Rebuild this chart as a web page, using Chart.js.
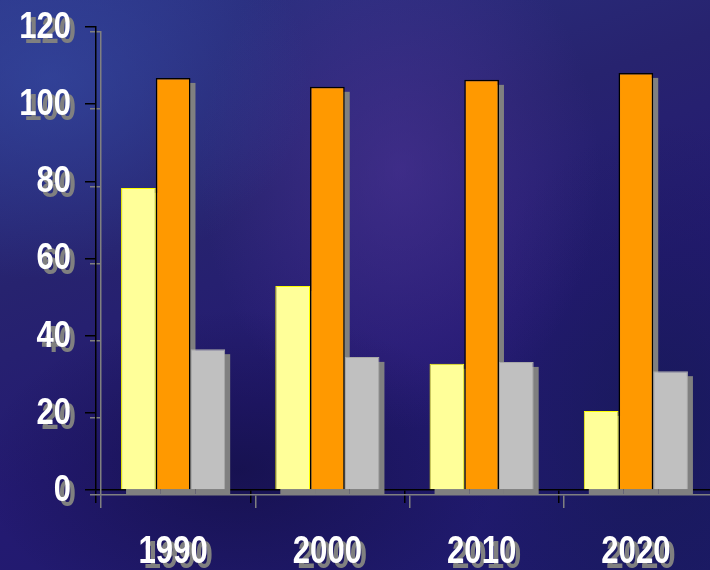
<!DOCTYPE html>
<html>
<head>
<meta charset="utf-8">
<script src="https://cdn.jsdelivr.net/npm/chart.js@4/dist/chart.umd.min.js"></script>
<style>
    html, body {
        margin: 0;
        padding: 0;
    }
    body {
        width: 710px;
        height: 570px;
        overflow: hidden;
        position: relative;
        background:
            radial-gradient(ellipse 260px 200px at 50px 80px, rgba(55, 80, 170, 0.55), rgba(55, 80, 170, 0) 100%),
            radial-gradient(ellipse 200px 260px at 400px 170px, rgba(85, 55, 160, 0.5), rgba(85, 55, 160, 0) 100%),
            radial-gradient(ellipse 260px 160px at 240px 470px, rgba(15, 12, 60, 0.6), rgba(15, 12, 60, 0) 100%),
            radial-gradient(ellipse 200px 300px at 660px 420px, rgba(20, 25, 80, 0.6), rgba(20, 25, 80, 0) 100%),
            linear-gradient(160deg, #2c3486 0%, #27236f 35%, #241a72 60%, #1d1a6a 100%);
    }
    #wrap {
        position: absolute;
        left: 0;
        top: 0;
        width: 716px;
        height: 570px;
    }
</style>
</head>
<body>
<div id="wrap"><canvas id="chart"></canvas></div>
<script>
const years = ['1990', '2000', '2010', '2020'];
const yellowValues = [78.3, 52.9, 32.7, 20.5];
const orangeValues = [106.8, 104.5, 106.3, 108.1];
const grayValues = [36.5, 34.5, 33.2, 30.8];
const yTicks = [0, 20, 40, 60, 80, 100, 120];

const shadowGray = '#808080';

function shadowOn(ctx) {
    ctx.shadowColor = shadowGray;
    ctx.shadowOffsetX = 5;
    ctx.shadowOffsetY = 5;
    ctx.shadowBlur = 0;
}

function shadowOff(ctx) {
    ctx.shadowColor = 'rgba(0,0,0,0)';
    ctx.shadowOffsetX = 0;
    ctx.shadowOffsetY = 0;
}

// narrow bold text, squeezed like Arial Narrow
function drawNarrow(ctx, text, x, y, size, squeeze, align) {
    ctx.save();
    ctx.font = 'bold ' + size + "px 'Liberation Sans', Arial, sans-serif";
    ctx.textAlign = align;
    ctx.textBaseline = 'middle';
    ctx.fillStyle = '#ffffff';
    ctx.translate(x, y);
    ctx.scale(squeeze, 1);
    ctx.fillText(text, 0, 0);
    ctx.restore();
}

// hard gray drop shadow on axes, bars and labels
const slideShadow = {
    id: 'slideShadow',
    beforeDraw(chart) {
        shadowOn(chart.ctx);
    },
    beforeDatasetsDraw(chart) {
        const ctx = chart.ctx;
        shadowOff(ctx);
        ctx.save();
        ctx.fillStyle = shadowGray;
        chart.data.datasets.forEach((ds, i) => {
            chart.getDatasetMeta(i).data.forEach(bar => {
                const p = bar.getProps(['x', 'y', 'base', 'width'], true);
                ctx.fillRect(p.x - p.width / 2 + 5, p.y + 5, p.width, p.base - p.y);
            });
        });
        ctx.restore();
    },
    afterDatasetsDraw(chart) {
        shadowOn(chart.ctx);
    },
    afterDraw(chart) {
        const ctx = chart.ctx;
        const xs = chart.scales.x;
        const ys = chart.scales.y;
        shadowOn(ctx);
        yTicks.forEach(v => {
            drawNarrow(ctx, String(v), 71, ys.getPixelForValue(v) + 1, 36, 0.86, 'right');
        });
        years.forEach((yr, i) => {
            drawNarrow(ctx, yr, xs.getPixelForTick(i), 552, 39, 0.8, 'center');
        });
        shadowOff(ctx);
    }
};

const ctx = document.getElementById('chart').getContext('2d');
new Chart(ctx, {
    type: 'bar',
    data: {
        labels: years,
        datasets: [{
            data: yellowValues,
            backgroundColor: '#ffff99',
            borderColor: '#ffff00',
            borderWidth: 1
        }, {
            data: orangeValues,
            backgroundColor: '#ff9900',
            borderColor: '#000000',
            borderWidth: 1.5
        }, {
            data: grayValues,
            backgroundColor: '#c0c0c0',
            borderColor: '#a8a8a8',
            borderWidth: 1
        }]
    },
    options: {
        responsive: true,
        maintainAspectRatio: false,
        animation: false,
        devicePixelRatio: 1,
        categoryPercentage: 0.675,
        barPercentage: 1.0,
        layout: {
            padding: { top: 27, right: 3, bottom: 0, left: 0 }
        },
        plugins: {
            legend: { display: false },
            tooltip: { enabled: false }
        },
        scales: {
            x: {
                z: 1,
                grid: {
                    offset: true,
                    drawOnChartArea: false,
                    color: '#000000',
                    lineWidth: 1.5,
                    tickLength: 13
                },
                border: { color: '#000000', width: 1.5 },
                ticks: { display: false },
                afterFit(scale) {
                    scale.height = 80;
                }
            },
            y: {
                z: 1,
                min: 0,
                max: 120,
                afterBuildTicks(scale) {
                    scale.ticks = yTicks.map(v => ({ value: v }));
                },
                grid: {
                    drawOnChartArea: false,
                    color: '#000000',
                    lineWidth: 1.5,
                    tickLength: 11
                },
                border: { color: '#000000', width: 1.5 },
                ticks: { display: false },
                afterFit(scale) {
                    scale.width = 96;
                }
            }
        }
    },
    plugins: [slideShadow]
});
</script>
</body>
</html>
